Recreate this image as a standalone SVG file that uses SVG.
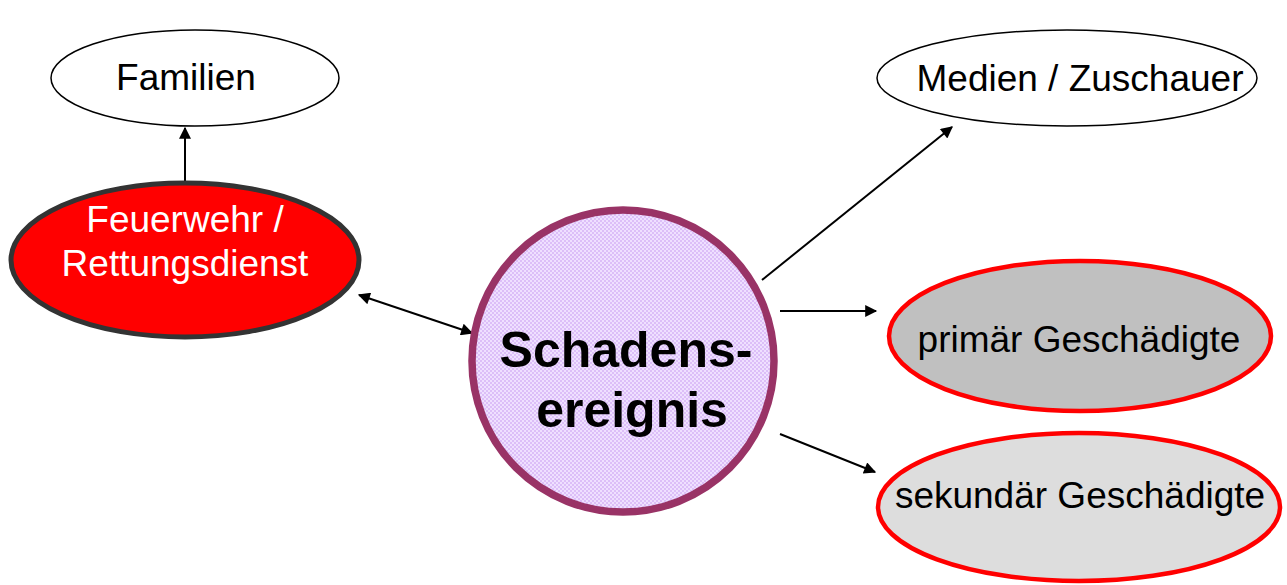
<svg xmlns="http://www.w3.org/2000/svg" width="1287" height="585" viewBox="0 0 1287 585">
  <style>
    .lbl { font-family: "Liberation Sans", Arial, sans-serif; font-size: 37px; text-anchor: middle; fill: #000; }
    .white { fill: #fff; }
    .big { font-size: 50px; font-weight: bold; }
    .con { stroke: #000; stroke-width: 2; fill: none; }
    .plain { fill: #fff; stroke: #000; stroke-width: 1.5; }
    .victim { stroke: #ff0000; stroke-width: 4.5; }
  </style>
  <defs>
    <marker id="arrL" viewBox="0 0 10 10" refX="9" refY="5" markerWidth="16" markerHeight="12" orient="auto-start-reverse" markerUnits="userSpaceOnUse">
      <path d="M0,0 L10,5 L0,10 z" fill="#000"/>
    </marker>
    <pattern id="check" width="4" height="4" patternUnits="userSpaceOnUse">
      <rect width="4" height="4" fill="#efe0ff"/>
      <rect width="2" height="2" fill="#dcbff8"/>
      <rect x="2" y="2" width="2" height="2" fill="#dcbff8"/>
    </pattern>
  </defs>

  <g id="connectors">
    <line class="con" x1="185" y1="182" x2="185" y2="128" marker-end="url(#arrL)"/>
    <line class="con" x1="359" y1="295" x2="472" y2="333" marker-start="url(#arrL)" marker-end="url(#arrL)"/>
    <line class="con" x1="762" y1="280" x2="952" y2="127" marker-end="url(#arrL)"/>
    <line class="con" x1="780" y1="311" x2="876" y2="311" marker-end="url(#arrL)"/>
    <line class="con" x1="780" y1="434" x2="875" y2="472" marker-end="url(#arrL)"/>
  </g>

  <g id="familien">
    <ellipse class="plain" cx="195" cy="78" rx="144" ry="48"/>
    <text class="lbl" x="186" y="90">Familien</text>
  </g>

  <g id="feuerwehr">
    <ellipse cx="185" cy="260" rx="174" ry="77" fill="#ff0000" stroke="#333" stroke-width="5"/>
    <text class="lbl white" x="185" y="232">Feuerwehr /</text>
    <text class="lbl white" x="185" y="276">Rettungsdienst</text>
  </g>

  <g id="schadensereignis">
    <circle cx="623" cy="361" r="151" fill="url(#check)" stroke="#993366" stroke-width="7.5"/>
    <text class="lbl big" x="626" y="367">Schadens-</text>
    <text class="lbl big" x="632" y="427">ereignis</text>
  </g>

  <g id="medien">
    <ellipse class="plain" cx="1067" cy="78" rx="190" ry="48"/>
    <text class="lbl" x="1080" y="91">Medien / Zuschauer</text>
  </g>

  <g id="primaer">
    <ellipse class="victim" cx="1080" cy="336" rx="191" ry="75" fill="#c0c0c0"/>
    <text class="lbl" x="1079" y="352">primär Geschädigte</text>
  </g>

  <g id="sekundaer">
    <ellipse class="victim" cx="1079" cy="507" rx="201" ry="74" fill="#dddddd"/>
    <text class="lbl" x="1080" y="508">sekundär Geschädigte</text>
  </g>
</svg>
